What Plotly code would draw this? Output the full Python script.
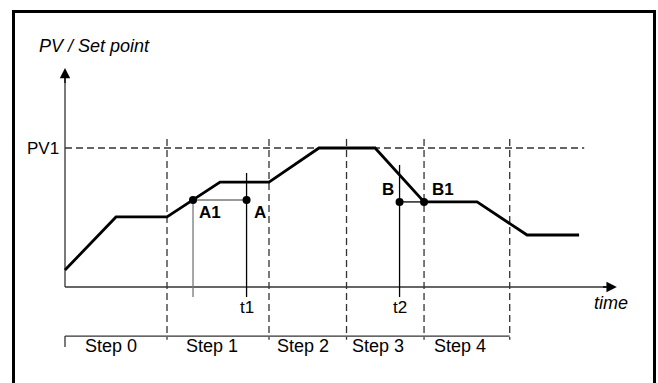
import plotly.graph_objects as go

# set point profile (time units, PV units; PV1 = 100)
time_pts = [0, 5, 10, 15.2, 20, 24.9, 30.4, 35.2, 40.4, 45.3, 50.4]
pv_pts = [12.2, 50.4, 50.4, 75.5, 75.5, 100, 100, 61.2, 61.2, 37.4, 37.4]

pv1 = 100
pv1_end = 50.9

# step boundaries and labels
step_bounds = [0, 10, 20, 27.6, 35.2, 43.6]
step_labels = ["Step 0", "Step 1", "Step 2", "Step 3", "Step 4"]
step_label_pos = [4.55, 14.4, 23.3, 30.7, 38.7]

# A1 -> A  (t1) and B -> B1 (t2)
a1_t, a_t, a_pv = 12.55, 17.8, 62.6
b_t, b1_t, b_pv = 32.8, 35.2, 61.2

x_end = 54.1
y_end = 157.6

# pixel mapping: t=0 at px 65, 10.2 px per unit ; PV=0 at px 287, 1.39 px per unit
W, H = 658, 383
x_range = [-65 / 10.2, (W - 65) / 10.2]
y_range = [-(H - 287) / 1.39, 287 / 1.39]

FONT = "Liberation Sans, Arial, Helvetica, sans-serif"
GREY = "#333333"

fig = go.Figure()

def seg(xs, ys, color=GREY, width=1.3, dash="solid"):
    fig.add_trace(go.Scatter(x=xs, y=ys, mode="lines", hoverinfo="skip",
                             line=dict(color=color, width=width, dash=dash)))

# PV1 dashed level
seg([0, pv1_end], [pv1, pv1], dash="7px,4px", width=1.3)

# dashed step boundaries
for b in step_bounds[1:]:
    seg([b, b], [106.5, -38], dash="7px,4px", width=1.3)

# step bracket
seg([0, step_bounds[-1]], [-35.3, -35.3])
seg([0, 0], [-35.3, -43.2])

# axes
seg([0, 0], [0, y_end - 3])
seg([0, x_end - 1], [0, 0])

# A1/A and B/B1 constructions
seg([a1_t, a1_t], [a_pv, -7.2], color="#777777")
seg([a1_t, a_t], [a_pv, a_pv], color="#777777")
seg([a_t, a_t], [82, -7.2], color="black", width=1.3)
seg([b_t, b_t], [87.8, -7.2], color="black", width=1.3)
seg([b_t, b1_t], [b_pv, b_pv], color="black", width=1.3)

# profile
seg(time_pts, pv_pts, color="black", width=2.8)

# dots
fig.add_trace(go.Scatter(x=[a1_t, a_t, b_t, b1_t], y=[a_pv, a_pv, b_pv, b_pv],
                         mode="markers", hoverinfo="skip",
                         marker=dict(color="black", size=8)))

# arrowheads
fig.add_annotation(x=0, y=y_end, ax=0, ay=y_end - 12, xref="x", yref="y",
                   axref="x", ayref="y", text="", showarrow=True,
                   arrowhead=2, arrowsize=1.6, arrowwidth=1.3, arrowcolor="black", standoff=0)
fig.add_annotation(x=x_end, y=0, ax=x_end - 1.5, ay=0, xref="x", yref="y",
                   axref="x", ayref="y", text="", showarrow=True,
                   arrowhead=2, arrowsize=1.6, arrowwidth=1.3, arrowcolor="black", standoff=0)

def label(x, y, text, size=17, anchor="center", italic=False, bold=False):
    if bold:
        text = "<b>" + text + "</b>"
    fig.add_annotation(x=x, y=y, text=text, showarrow=False, xanchor=anchor,
                       yanchor="middle",
                       font=dict(family=FONT, size=size, color="black",
                                 style="italic" if italic else "normal"))

label(-2.75, 173.4, "PV / Set point", size=18, anchor="left", italic=True)
label(-0.4, pv1, "PV1", anchor="right")
label(55.4, -11.5, "time", size=18, anchor="right", italic=True)
label(a_t, -15.1, "t1")
label(b_t, -14.4, "t2")
label(12.9, 53.5, "A1", anchor="left", bold=True)
label(18.3, 53.5, "A", anchor="left", bold=True)
label(32.45, 69.8, "B", anchor="right", bold=True)
label(35.8, 69.8, "B1", anchor="left", bold=True)
for pos, txt in zip(step_label_pos, step_labels):
    label(pos, -42.6, txt, size=18)

# outer frame
fig.add_shape(type="rect", xref="paper", yref="paper",
              x0=13.5 / W, x1=654.5 / W, y0=-0.1, y1=1 - 11.5 / H,
              line=dict(color="black", width=3))

fig.update_layout(
    width=W, height=H,
    margin=dict(l=0, r=0, t=0, b=0),
    paper_bgcolor="white", plot_bgcolor="white",
    showlegend=False,
    xaxis=dict(range=x_range, visible=False, fixedrange=True),
    yaxis=dict(range=y_range, visible=False, fixedrange=True),
)

fig.write_html("out.html", config={"displayModeBar": False},
               post_script="document.body.style.margin='0';")
